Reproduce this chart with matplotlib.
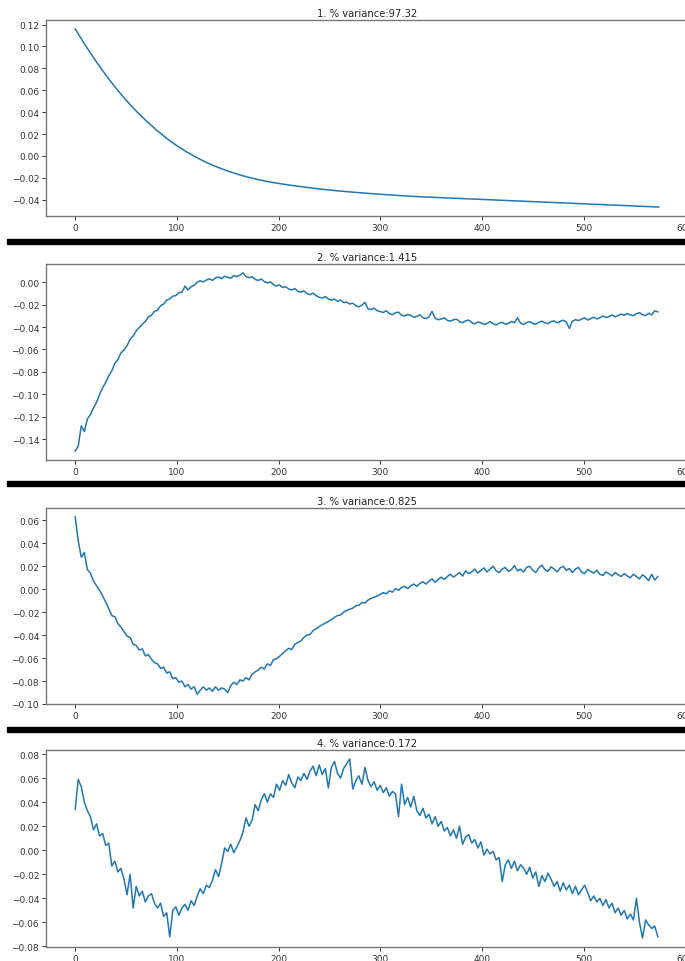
import numpy as np
import matplotlib
matplotlib.use("Agg")
import matplotlib.pyplot as plt
from matplotlib.patches import Rectangle

# ---------------- data ----------------
titles = ["1. % variance:97.32", "2. % variance:1.415",
          "3. % variance:0.825", "4. % variance:0.172"]

x1 = [0, 10, 20, 30, 40, 50, 60, 70, 80, 90, 100, 110, 120, 130, 140, 150, 160, 170, 180, 190,
      200, 210, 220, 230, 240, 250, 260, 270, 280, 290, 300, 310, 320, 330, 340, 350, 360, 370,
      380, 390, 400, 410, 420, 430, 440, 450, 460, 470, 480, 490, 500, 510, 520, 530, 540, 550,
      560, 570, 574]
y1 = [0.116, 0.101, 0.087, 0.074, 0.062, 0.051, 0.041, 0.0319, 0.0236, 0.0161, 0.0093,
      0.0035, -0.0017, -0.0063, -0.0103, -0.0138, -0.0168, -0.0194, -0.0216, -0.0235, -0.0251,
      -0.0265, -0.0278, -0.0290, -0.0301, -0.0311, -0.0320, -0.0328, -0.0336, -0.0343, -0.0350,
      -0.0356, -0.0362, -0.0368, -0.0373, -0.0377, -0.0381, -0.0385, -0.0389, -0.0393, -0.0397,
      -0.0401, -0.0405, -0.0409, -0.0413, -0.0417, -0.0421, -0.0425, -0.0429, -0.0433, -0.0437,
      -0.0441, -0.0445, -0.0449, -0.0453, -0.0457, -0.0461, -0.0465, -0.0467]

x_noisy = list(range(0, 575, 3))

y2 = [-0.1505, -0.1460, -0.1280, -0.1330, -0.1220, -0.1180, -0.1120, -0.1070, -0.1000, -0.0940,
      -0.0895, -0.0835, -0.0790, -0.0725, -0.0690, -0.0630, -0.0605, -0.0565, -0.0510, -0.0480,
      -0.0435, -0.0405, -0.0375, -0.0350, -0.0310, -0.0295, -0.0260, -0.0250, -0.0210, -0.0195,
      -0.0160, -0.0150, -0.0125, -0.0120, -0.0095, -0.0090, -0.0035, -0.0070, -0.0040, -0.0030,
      0.0000, 0.0012, 0.0002, 0.0018, 0.0030, 0.0015, 0.0038, 0.0045, 0.0030, 0.0052,
      0.0042, 0.0035, 0.0058, 0.0048, 0.0062, 0.0082, 0.0050, 0.0040, 0.0048, 0.0025,
      0.0015, 0.0028, 0.0005, -0.0008, 0.0002, -0.0022, -0.0035, -0.0025, -0.0048, -0.0040,
      -0.0062, -0.0070, -0.0058, -0.0082, -0.0090, -0.0078, -0.0102, -0.0112, -0.0098, -0.0120,
      -0.0135, -0.0142, -0.0128, -0.0150, -0.0160, -0.0152, -0.0171, -0.0160, -0.0182, -0.0178,
      -0.0195, -0.0188, -0.0210, -0.0220, -0.0205, -0.0180, -0.0238, -0.0245, -0.0232, -0.0255,
      -0.0262, -0.0270, -0.0255, -0.0282, -0.0290, -0.0272, -0.0268, -0.0295, -0.0302, -0.0288,
      -0.0296, -0.0312, -0.0305, -0.0290, -0.0318, -0.0325, -0.0310, -0.0260, -0.0322, -0.0335,
      -0.0328, -0.0318, -0.0340, -0.0348, -0.0335, -0.0330, -0.0352, -0.0362, -0.0345, -0.0338,
      -0.0360, -0.0372, -0.0355, -0.0362, -0.0378, -0.0368, -0.0352, -0.0370, -0.0382, -0.0365,
      -0.0358, -0.0375, -0.0368, -0.0350, -0.0362, -0.0318, -0.0365, -0.0378, -0.0360, -0.0352,
      -0.0368, -0.0375, -0.0358, -0.0348, -0.0362, -0.0370, -0.0352, -0.0345, -0.0362, -0.0350,
      -0.0340, -0.0355, -0.0412, -0.0348, -0.0335, -0.0342, -0.0330, -0.0318, -0.0338, -0.0325,
      -0.0312, -0.0328, -0.0318, -0.0302, -0.0315, -0.0308, -0.0292, -0.0310, -0.0298, -0.0285,
      -0.0295, -0.0280, -0.0292, -0.0298, -0.0282, -0.0272, -0.0290, -0.0298, -0.0278, -0.0292,
      -0.0255, -0.0265]

y3 = [0.0630, 0.0420, 0.0280, 0.0320, 0.0170, 0.0140, 0.0070, 0.0030, -0.0010, -0.0060,
      -0.0110, -0.0170, -0.0230, -0.0240, -0.0300, -0.0330, -0.0370, -0.0410, -0.0420, -0.0480,
      -0.0490, -0.0530, -0.0520, -0.0580, -0.0570, -0.0610, -0.0640, -0.0650, -0.0690, -0.0680,
      -0.0730, -0.0720, -0.0780, -0.0770, -0.0810, -0.0800, -0.0850, -0.0830, -0.0870, -0.0850,
      -0.0915, -0.0880, -0.0850, -0.0880, -0.0860, -0.0890, -0.0850, -0.0880, -0.0860, -0.0870,
      -0.0900, -0.0840, -0.0810, -0.0830, -0.0790, -0.0800, -0.0770, -0.0790, -0.0740, -0.0720,
      -0.0705, -0.0680, -0.0695, -0.0650, -0.0665, -0.0615, -0.0605, -0.0585, -0.0560, -0.0535,
      -0.0515, -0.0525, -0.0480, -0.0465, -0.0450, -0.0420, -0.0400, -0.0395, -0.0360, -0.0345,
      -0.0325, -0.0310, -0.0295, -0.0280, -0.0265, -0.0245, -0.0230, -0.0225, -0.0200, -0.0185,
      -0.0175, -0.0165, -0.0145, -0.0140, -0.0115, -0.0120, -0.0095, -0.0080, -0.0070, -0.0060,
      -0.0045, -0.0030, -0.0040, -0.0015, -0.0025, 0.0005, -0.0010, 0.0015, 0.0025, 0.0005,
      0.0030, 0.0045, 0.0025, 0.0050, 0.0065, 0.0045, 0.0070, 0.0090, 0.0060, 0.0085,
      0.0105, 0.0085, 0.0110, 0.0130, 0.0105, 0.0125, 0.0145, 0.0115, 0.0160, 0.0135,
      0.0150, 0.0175, 0.0140, 0.0165, 0.0185, 0.0150, 0.0175, 0.0200, 0.0160, 0.0145,
      0.0175, 0.0190, 0.0155, 0.0170, 0.0205, 0.0160, 0.0175, 0.0150, 0.0190, 0.0200,
      0.0165, 0.0145, 0.0185, 0.0210, 0.0170, 0.0155, 0.0195, 0.0175, 0.0150, 0.0185,
      0.0200, 0.0165, 0.0180, 0.0145, 0.0175, 0.0190, 0.0150, 0.0135, 0.0170, 0.0155,
      0.0140, 0.0165, 0.0130, 0.0120, 0.0150, 0.0135, 0.0115, 0.0145, 0.0125, 0.0110,
      0.0135, 0.0115, 0.0100, 0.0130, 0.0110, 0.0090, 0.0125, 0.0105, 0.0075, 0.0130,
      0.0080, 0.0110]

y4 = [0.0340, 0.0590, 0.0530, 0.0400, 0.0330, 0.0280, 0.0170, 0.0220, 0.0120, 0.0140,
      0.0040, 0.0060, -0.0130, -0.0090, -0.0180, -0.0150, -0.0240, -0.0370, -0.0200, -0.0480,
      -0.0300, -0.0380, -0.0340, -0.0430, -0.0380, -0.0360, -0.0440, -0.0480, -0.0440, -0.0550,
      -0.0520, -0.0720, -0.0500, -0.0470, -0.0540, -0.0480, -0.0450, -0.0500, -0.0420, -0.0460,
      -0.0380, -0.0320, -0.0360, -0.0290, -0.0310, -0.0250, -0.0160, -0.0220, -0.0110, 0.0020,
      -0.0010, 0.0050, -0.0020, 0.0030, 0.0080, 0.0150, 0.0270, 0.0200, 0.0250, 0.0380,
      0.0330, 0.0420, 0.0470, 0.0400, 0.0470, 0.0440, 0.0550, 0.0500, 0.0580, 0.0540,
      0.0630, 0.0560, 0.0520, 0.0610, 0.0580, 0.0640, 0.0590, 0.0660, 0.0700, 0.0620,
      0.0710, 0.0630, 0.0680, 0.0520, 0.0690, 0.0740, 0.0640, 0.0600, 0.0680, 0.0720,
      0.0760, 0.0510, 0.0580, 0.0620, 0.0550, 0.0690, 0.0580, 0.0530, 0.0570, 0.0500,
      0.0540, 0.0480, 0.0520, 0.0450, 0.0490, 0.0470, 0.0280, 0.0550, 0.0380, 0.0440,
      0.0360, 0.0450, 0.0330, 0.0290, 0.0350, 0.0270, 0.0300, 0.0220, 0.0280, 0.0200,
      0.0240, 0.0160, 0.0190, 0.0120, 0.0170, 0.0100, 0.0200, 0.0050, 0.0110, 0.0130,
      0.0060, 0.0090, 0.0020, 0.0070, -0.0040, 0.0010, -0.0030, -0.0010, -0.0080, -0.0060,
      -0.0260, -0.0120, -0.0080, -0.0150, -0.0090, -0.0170, -0.0120, -0.0150, -0.0200, -0.0140,
      -0.0230, -0.0180, -0.0300, -0.0210, -0.0260, -0.0190, -0.0240, -0.0300, -0.0260, -0.0340,
      -0.0270, -0.0330, -0.0290, -0.0360, -0.0300, -0.0370, -0.0330, -0.0290, -0.0350, -0.0420,
      -0.0380, -0.0430, -0.0400, -0.0460, -0.0410, -0.0480, -0.0440, -0.0520, -0.0480, -0.0540,
      -0.0500, -0.0570, -0.0530, -0.0580, -0.0400, -0.0600, -0.0730, -0.0580, -0.0620, -0.0650,
      -0.0630, -0.0720]

xticks = [0, 100, 200, 300, 400, 500, 600]
yticks_list = [
    [-0.04, -0.02, 0.00, 0.02, 0.04, 0.06, 0.08, 0.10, 0.12],
    [-0.14, -0.12, -0.10, -0.08, -0.06, -0.04, -0.02, 0.00],
    [-0.10, -0.08, -0.06, -0.04, -0.02, 0.00, 0.02, 0.04, 0.06],
    [-0.08, -0.06, -0.04, -0.02, 0.00, 0.02, 0.04, 0.06, 0.08],
]

series = [(x1, y1), (x_noisy, y2), (x_noisy, y3), (x_noisy, y4)]

# ---------------- layout ----------------
W, H = 685, 962
fig = plt.figure(figsize=(W / 100, H / 100), dpi=100)
fig.patch.set_facecolor("white")

left_px, right_px = 46, 688
axes_px = [(21, 217), (265, 461), (509, 705), (751, 948)]
bars_px = [240, 482, 728]

for i, ((top, bot), (xs, ys)) in enumerate(zip(axes_px, series)):
    ax = fig.add_axes([left_px / W, 1 - bot / H, (right_px - left_px) / W, (bot - top) / H])
    ax.plot(xs, ys, color="#1f77b4", lw=1.1)
    ax.set_xlim(-0.05 * 574, 574 * 1.05)
    ax.set_xticks(xticks)
    ax.set_yticks(yticks_list[i])
    ax.set_yticklabels([f"{v:.2f}".replace("-", "\u2212") for v in yticks_list[i]])
    ax.set_title(titles[i], fontsize=7.2, color="#222222", pad=3)
    ax.tick_params(labelsize=6.5, colors="#333333", length=3, width=0.7, pad=2)
    for sp in ax.spines.values():
        sp.set_color("#777777")
        sp.set_linewidth(1.0)

for yb in bars_px:
    fig.patches.append(Rectangle((7 / W, 1 - (yb + 5) / H), 1.0, 5 / H,
                                 transform=fig.transFigure, color="black", zorder=10))

fig.savefig("out.png", dpi=100)
